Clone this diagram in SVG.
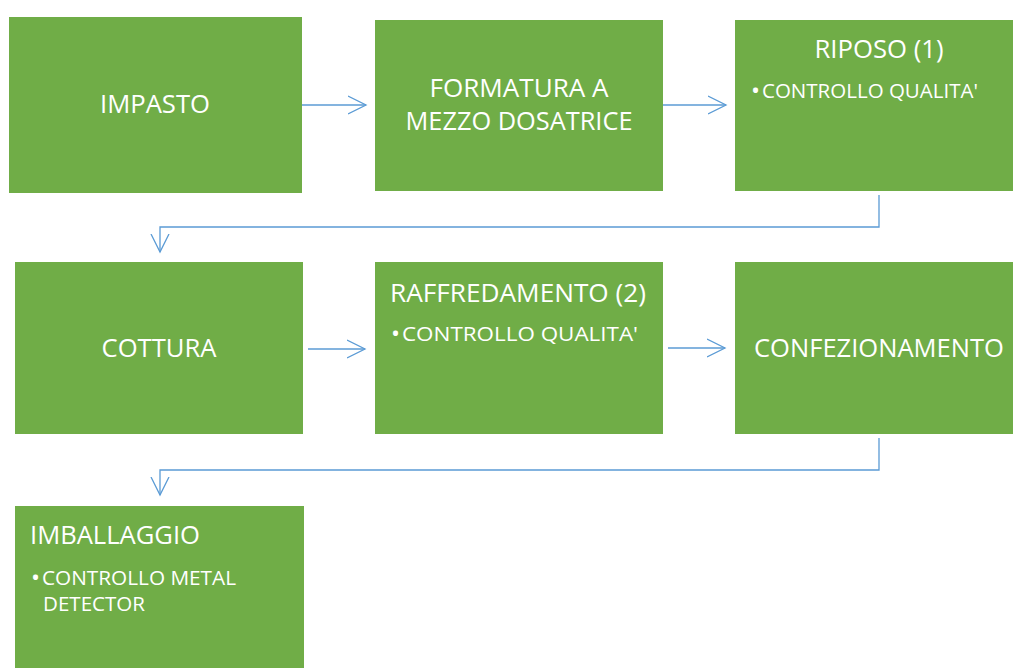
<svg xmlns="http://www.w3.org/2000/svg" width="1013" height="668" viewBox="0 0 1013 668">
<defs>
<style>
.box{fill:#70AD47;}
.t{fill:#ffffff;font-family:"Open Sans","Liberation Sans",sans-serif;}
.h{font-size:26px;}
.h2{font-size:25px;}
.b{font-size:19.5px;}
.bu{font-size:24px;}
.c{fill:none;stroke:#5B9BD5;stroke-width:1.3;}
</style>
<marker id="arr" viewBox="0 0 20 20" refX="18" refY="10" markerWidth="20" markerHeight="20" markerUnits="userSpaceOnUse" orient="auto">
<path d="M0,1 L18,10 L0,19" fill="none" stroke="#5B9BD5" stroke-width="1.3"/>
</marker>
</defs>
<rect width="1013" height="668" fill="#ffffff"/>
<g id="connectors">
<path class="c" d="M302,105 H366" marker-end="url(#arr)"/>
<path class="c" d="M663,105 H726" marker-end="url(#arr)"/>
<path class="c" d="M879,195 V227 H160 V252" marker-end="url(#arr)"/>
<path class="c" d="M308,349 H365" marker-end="url(#arr)"/>
<path class="c" d="M668,348 H725" marker-end="url(#arr)"/>
<path class="c" d="M879,438 V470 H160 V495" marker-end="url(#arr)"/>
</g>
<g id="impasto">
<rect class="box" x="9" y="17" width="293" height="176"/>
<text class="t h" x="155" y="113" text-anchor="middle" textLength="110" lengthAdjust="spacingAndGlyphs">IMPASTO</text>
</g>
<g id="formatura">
<rect class="box" x="375" y="20" width="288" height="171"/>
<text class="t h2" x="519" y="97" text-anchor="middle" textLength="179" lengthAdjust="spacingAndGlyphs">FORMATURA A</text>
<text class="t h2" x="519" y="130" text-anchor="middle" textLength="227" lengthAdjust="spacingAndGlyphs">MEZZO DOSATRICE</text>
</g>
<g id="riposo">
<rect class="box" x="735" y="20" width="278" height="171"/>
<text class="t h" x="879" y="58" text-anchor="middle" textLength="129" lengthAdjust="spacingAndGlyphs">RIPOSO (1)</text>
<text class="t bu" x="751" y="99">•</text>
<text class="t b" x="762" y="98" textLength="216" lengthAdjust="spacingAndGlyphs">CONTROLLO QUALITA'</text>
</g>
<g id="cottura">
<rect class="box" x="15" y="262" width="288" height="172"/>
<text class="t h" x="159" y="357" text-anchor="middle" textLength="115" lengthAdjust="spacingAndGlyphs">COTTURA</text>
</g>
<g id="raffredamento">
<rect class="box" x="375" y="262" width="288" height="172"/>
<text class="t h" x="390" y="302" textLength="256" lengthAdjust="spacingAndGlyphs">RAFFREDAMENTO (2)</text>
<text class="t bu" x="391" y="342">•</text>
<text class="t b" x="402" y="341" textLength="236" lengthAdjust="spacingAndGlyphs">CONTROLLO QUALITA'</text>
</g>
<g id="confezionamento">
<rect class="box" x="735" y="262" width="278" height="172"/>
<text class="t h" x="879" y="357" text-anchor="middle" textLength="250" lengthAdjust="spacingAndGlyphs">CONFEZIONAMENTO</text>
</g>
<g id="imballaggio">
<rect class="box" x="15" y="506" width="289" height="162"/>
<text class="t h" x="30" y="544" textLength="170" lengthAdjust="spacingAndGlyphs">IMBALLAGGIO</text>
<text class="t bu" x="31" y="586">•</text>
<text class="t b" x="42" y="585" textLength="194" lengthAdjust="spacingAndGlyphs">CONTROLLO METAL</text>
<text class="t b" x="43" y="611" textLength="102" lengthAdjust="spacingAndGlyphs">DETECTOR</text>
</g>
</svg>
